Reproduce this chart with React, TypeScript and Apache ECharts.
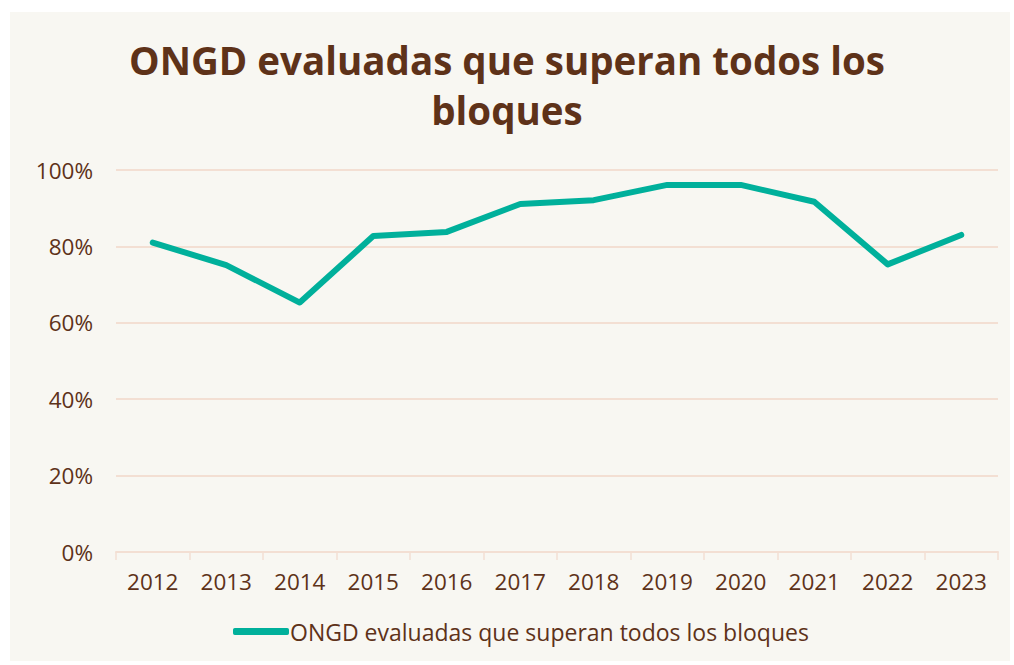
import React, { useEffect, useRef } from "react";
import * as echarts from "echarts";

const titleText = "ONGD evaluadas que superan todos los\nbloques";
const seriesName = "ONGD evaluadas que superan todos los bloques";
const years = ["2012", "2013", "2014", "2015", "2016", "2017", "2018", "2019", "2020", "2021", "2022", "2023"];
const values = [81.0, 75.1, 65.3, 82.7, 83.8, 91.1, 92.1, 96.1, 96.1, 91.7, 75.3, 83.0];
const yTicks = [0, 20, 40, 60, 80, 100];

const BROWN = "#5e3219";
const TEAL = "#00b09b";
const GRID = "#f3dfd3";
const FONT = "'Open Sans', sans-serif";

export default function App() {
  const ref = useRef<HTMLDivElement>(null);
  useEffect(() => {
    document.body.style.margin = "0";
    const chart = echarts.init(ref.current!, undefined, { renderer: "svg" });
    chart.setOption({
      animation: false,
      backgroundColor: "transparent",
      title: {
        text: titleText,
        left: "center",
        top: 30,
        textStyle: {
          color: BROWN,
          fontFamily: FONT,
          fontWeight: "bold",
          fontSize: 38.5,
          lineHeight: 50,
        },
      },
      legend: {
        bottom: 17,
        left: 228,
        itemWidth: 56,
        itemHeight: 7,
        itemGap: 4,
        icon: "roundRect",
        textStyle: { color: BROWN, fontFamily: FONT, fontSize: 23, padding: [0, 0, 0, -4] },
        data: [seriesName],
      },
      grid: { left: 116, right: 16, top: 170, bottom: 113, containLabel: false },
      xAxis: {
        type: "category",
        data: years,
        boundaryGap: true,
        axisLine: { show: true, lineStyle: { color: GRID, width: 2 } },
        axisTick: { show: true, length: 8, lineStyle: { color: GRID, width: 1.5 } },
        axisLabel: { color: BROWN, fontFamily: FONT, fontSize: 22.5, margin: 18 },
        splitLine: { show: false },
      },
      yAxis: {
        type: "value",
        min: 0,
        max: 100,
        interval: 20,
        axisLine: { show: false },
        axisTick: { show: false },
        axisLabel: {
          color: BROWN,
          fontFamily: FONT,
          fontSize: 22.5,
          margin: 23,
          formatter: (v: number) => (yTicks.includes(v) ? `${v}%` : ""),
        },
        splitLine: { show: true, lineStyle: { color: GRID, width: 2 } },
      },
      series: [
        {
          name: seriesName,
          type: "line",
          data: values,
          symbol: "none",
          lineStyle: { color: TEAL, width: 6, cap: "round", join: "round" },
          itemStyle: { color: TEAL },
        },
      ],
    });
    return () => chart.dispose();
  }, []);
  return (
    <div style={{ position: "relative", width: 1014, height: 665, background: "#ffffff" }}>
      <div style={{ position: "absolute", left: 10, top: 12, width: 1000, height: 649, background: "#f8f7f2" }} />
      <div ref={ref} style={{ position: "absolute", left: 0, top: 0, width: 1014, height: 665 }} />
    </div>
  );
}
